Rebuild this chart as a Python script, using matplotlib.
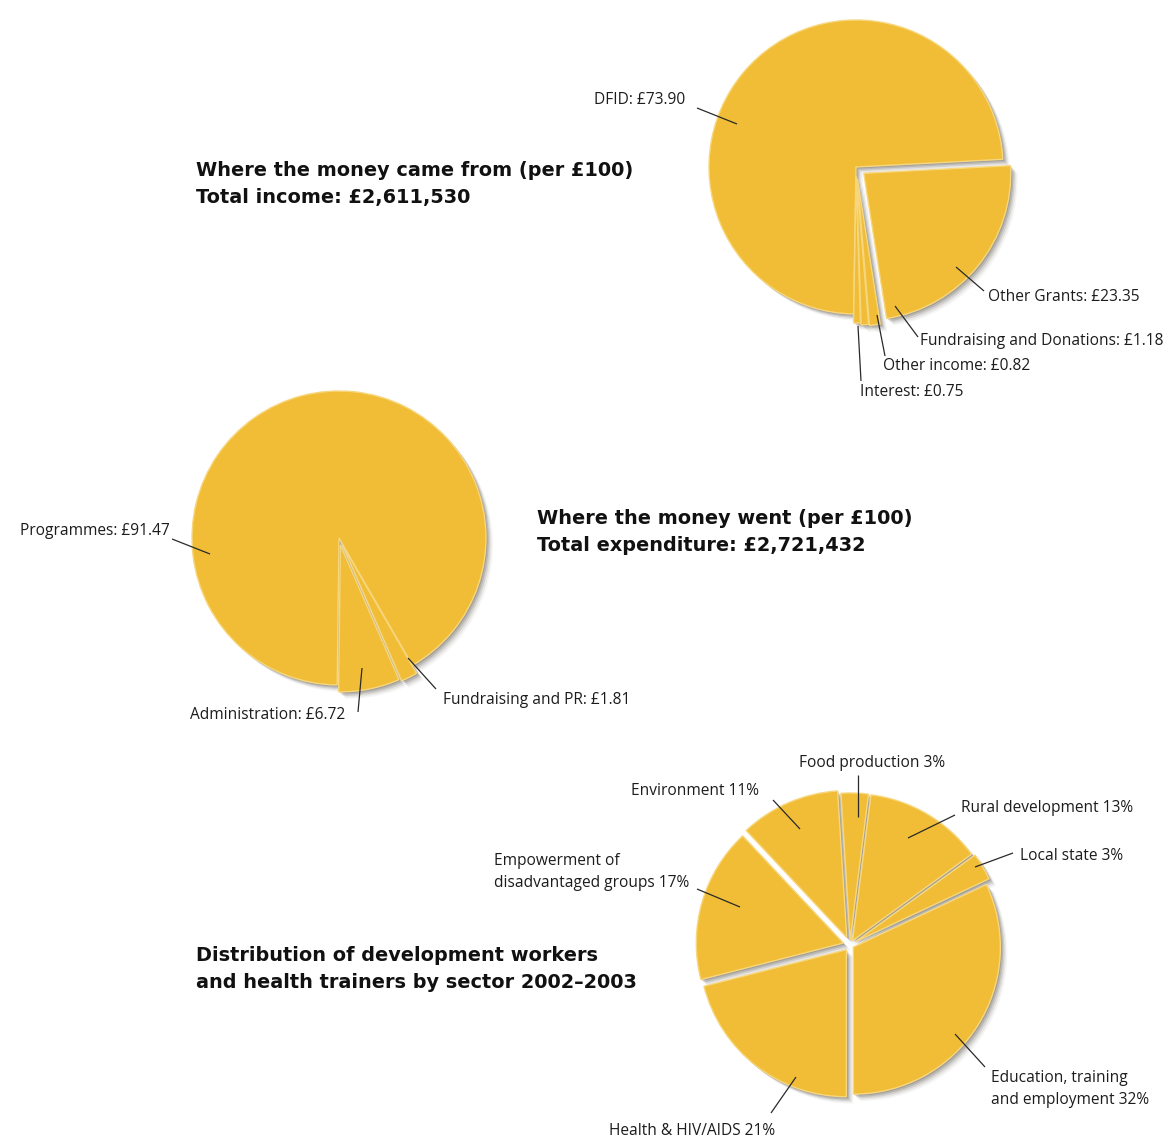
import matplotlib
matplotlib.use("Agg")
import matplotlib.pyplot as plt
import matplotlib.patches as mpatches

# canvas in pixels
W, H = 1168, 1140

# ---- data ----
income_labels = ["DFID", "Interest", "Other income", "Fundraising and Donations", "Other Grants"]
income_values = [73.90, 0.75, 0.82, 1.18, 23.35]

spend_labels = ["Programmes", "Administration", "Fundraising and PR"]
spend_values = [91.47, 6.72, 1.81]

sector_labels = ["Education, training\nand employment", "Local state", "Rural development",
                 "Food production", "Environment", "Empowerment of\ndisadvantaged groups",
                 "Health & HIV/AIDS"]
sector_values = [32, 3, 13, 3, 11, 17, 21]

titles = [
    "Where the money came from (per £100)\nTotal income: £2,611,530",
    "Where the money went (per £100)\nTotal expenditure: £2,721,432",
    "Distribution of development workers\nand health trainers by sector 2002–2003",
]

YELLOW = "#F2BD36"
EDGE = "#F7D77E"
SHADOW = "#6a655c"
INK = "#1c1c1c"
LABEL_FONT = ["Open Sans", "DejaVu Sans"]
TITLE_FONT = ["DejaVu Sans"]


def Y(py):
    # pixel row (from top) -> data y
    return H - py


def draw_pie(ax, values, center, radius, startangle, explode):
    wedges, _ = ax.pie(values, center=(center[0], Y(center[1])), radius=radius,
                       startangle=startangle, counterclock=True, explode=explode,
                       colors=[YELLOW] * len(values), frame=True,
                       wedgeprops=dict(edgecolor=EDGE, linewidth=1.0, zorder=3))
    # soft drop shadow: a few stacked offset copies
    for w in wedges:
        for off, a in [(1.0, 0.3), (2.0, 0.24), (3.0, 0.17), (4.0, 0.1), (5.0, 0.06)]:
            ax.add_patch(mpatches.Shadow(w, off, -off, facecolor=SHADOW, edgecolor="none",
                                         alpha=a, zorder=2))
    return wedges


def label(ax, text, tx, ty, line, ha="left", va="center"):
    ax.text(tx, Y(ty), text, ha=ha, va=va, fontsize=11.2, color=INK,
            family=LABEL_FONT, linespacing=1.45, zorder=5)
    (x1, y1), (x2, y2) = line
    ax.plot([x1, x2], [Y(y1), Y(y2)], color="#2a2a2a", lw=0.9, zorder=5,
            solid_capstyle="butt")


fig = plt.figure(figsize=(W / 100, H / 100), dpi=100)
ax = fig.add_axes([0, 0, 1, 1])

# pie 1: income
draw_pie(ax, income_values, (856, 167), 147, 3, [0, 9, 11, 12, 10])
# pie 2: expenditure
draw_pie(ax, spend_values, (339, 538), 147, -60, [0, 7, 9])
# pie 3: sectors
draw_pie(ax, sector_values, (850, 945), 147, -90, [4, 7, 5, 5, 8, 7, 6])

# income labels
inc_layout = [
    ((594, 100), ((697, 108), (737, 124))),
    ((860, 392), ((858, 326), (861, 381))),
    ((883, 366), ((877, 315), (885, 356))),
    ((920, 341), ((895, 306), (918, 337))),
    ((988, 297), ((956, 267), (984, 291))),
]
for name, v, ((tx, ty), ln) in zip(income_labels, income_values, inc_layout):
    label(ax, f"{name}: £{v:.2f}", tx, ty, ln)

# expenditure labels
sp_layout = [
    ((20, 531), ((172, 539), (210, 554))),
    ((190, 715), ((358, 712), (362, 668))),
    ((443, 700), ((436, 689), (408, 658))),
]
for name, v, ((tx, ty), ln) in zip(spend_labels, spend_values, sp_layout):
    label(ax, f"{name}: £{v:.2f}", tx, ty, ln)

# sector labels
sec_layout = [
    ((991, 1089), ((985, 1067), (955, 1034))),
    ((1020, 856), ((1013, 853), (975, 867))),
    ((961, 808), ((955, 815), (908, 838))),
    ((799, 763), ((858, 775), (858, 817))),
    ((631, 791), ((773, 800), (800, 829))),
    ((494, 872), ((697, 889), (740, 907))),
    ((609, 1131), ((771, 1113), (796, 1077))),
]
for name, v, ((tx, ty), ln) in zip(sector_labels, sector_values, sec_layout):
    label(ax, f"{name} {v}%", tx, ty, ln)

# titles
for text, (tx, ty) in zip(titles, [(196, 184), (537, 532), (196, 969)]):
    ax.text(tx, Y(ty), text, ha="left", va="center", fontsize=13.9, fontweight="bold",
            color="#111111", family=TITLE_FONT, linespacing=1.55)

ax.set_xlim(0, W)
ax.set_ylim(0, H)
ax.set_aspect("equal")
ax.axis("off")

fig.savefig("out.png", dpi=100)
